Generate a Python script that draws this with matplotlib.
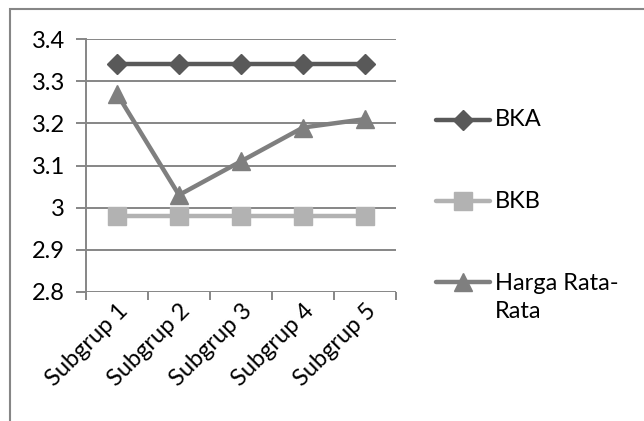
import matplotlib
matplotlib.use('Agg')
import matplotlib.pyplot as plt
from matplotlib.lines import Line2D
from matplotlib.patches import Rectangle

plt.rcParams['font.family'] = ['Lato', 'DejaVu Sans']

# data
categories = ['Subgrup 1', 'Subgrup 2', 'Subgrup 3', 'Subgrup 4', 'Subgrup 5']
bka = [3.34, 3.34, 3.34, 3.34, 3.34]
bkb = [2.98, 2.98, 2.98, 2.98, 2.98]
rata = [3.27, 3.03, 3.11, 3.19, 3.21]
series_names = ['BKA', 'BKB', 'Harga Rata-\nRata']
y_ticks = [2.8, 2.9, 3.0, 3.1, 3.2, 3.3, 3.4]
y_labels = ['2.8', '2.9', '3', '3.1', '3.2', '3.3', '3.4']

W, H = 644, 421
FS = 17
fig = plt.figure(figsize=(W / 100, H / 100), dpi=100)
ax = fig.add_axes([86 / W, 1 - 292 / H, (396 - 86) / W, (292 - 39) / H])

grid_c = '#868686'
colors = ['#595959', '#b2b2b2', '#7f7f7f']
markers = ['D', 's', '^']
msizes = [10, 13, 13]

x = list(range(len(categories)))
for vals, c, m, ms in zip([bka, bkb, rata], colors, markers, msizes):
    ax.plot(x, vals, color=c, lw=3.2, marker=m, ms=ms, mec=c, mfc=c,
            solid_capstyle='round', zorder=3)

ax.set_xlim(-0.5, len(categories) - 0.5)
ax.set_ylim(2.8, 3.4)
ax.set_yticks(y_ticks)
ax.set_yticklabels(y_labels, fontsize=FS)
for yt in y_ticks:
    ax.axhline(yt, color=grid_c, lw=1.4, zorder=1)

ax.set_xticks(x)
ax.set_xticklabels(categories, rotation=45, ha='right', rotation_mode='anchor',
                   fontsize=FS)
ax.tick_params(axis='x', which='major', length=0, pad=6)
ax.set_xticks([i - 0.5 for i in range(len(categories) + 1)], minor=True)
ax.tick_params(axis='x', which='minor', length=6, width=1.4, color=grid_c,
               direction='out')
ax.tick_params(axis='y', length=7, width=1.4, color=grid_c, pad=8)

for s in ['top', 'right', 'bottom']:
    ax.spines[s].set_visible(False)
ax.spines['left'].set_color(grid_c)
ax.spines['left'].set_linewidth(1.4)

# legend drawn by hand to keep the wide spacing
leg_y = [120, 201, 282]
for name, c, m, ms, yy in zip(series_names, colors, markers, msizes, leg_y):
    yf = 1 - yy / H
    fig.add_artist(Line2D([436 / W, 490 / W], [yf, yf], color=c, lw=3.2,
                          solid_capstyle='round', transform=fig.transFigure))
    fig.add_artist(Line2D([463 / W], [yf], marker=m, ms=ms, color=c, mec=c,
                          transform=fig.transFigure))
    if '\n' in name:
        fig.text(495 / W, yf + 9 / H, name, fontsize=FS, va='top', ha='left',
                 linespacing=1.4)
    else:
        fig.text(495 / W, yf, name, fontsize=FS, va='center', ha='left')

# outer chart border (partially cropped)
fig.add_artist(Rectangle((10 / W, -0.1), 1.2, 1 - 9 / H + 0.1, fill=False,
                         edgecolor=grid_c, lw=1.5, transform=fig.transFigure))

fig.savefig('out.png', dpi=100)
